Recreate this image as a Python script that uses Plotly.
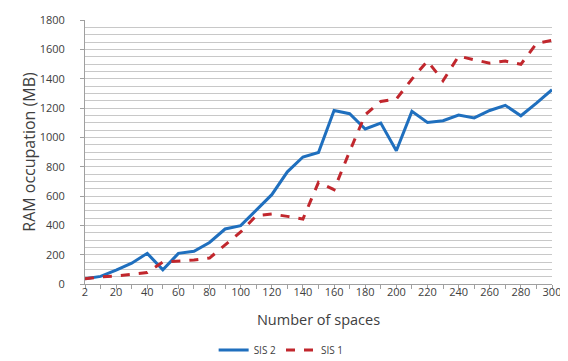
import plotly.graph_objects as go

categories = [2, 10, 20, 30, 40, 50, 60, 70, 80, 90, 100, 110, 120, 130, 140, 150,
              160, 170, 180, 190, 200, 210, 220, 230, 240, 250, 260, 270, 280, 290, 300]
sis2 = [35, 52, 95, 142, 209, 97, 209, 223, 283, 375, 398, 502, 609, 765, 866, 897,
        1183, 1161, 1057, 1097, 909, 1177, 1102, 1113, 1152, 1132, 1183, 1218, 1147, 1233, 1325]
sis1 = [35, 48, 55, 68, 78, 150, 155, 163, 177, 266, 355, 466, 477, 461, 443, 693,
        643, 904, 1154, 1245, 1261, 1397, 1520, 1386, 1554, 1529, 1506, 1520, 1498, 1640, 1661]
tick_labels = [str(c) if i % 2 == 0 else "" for i, c in enumerate(categories)]

idx = list(range(len(categories)))

fig = go.Figure()
fig.add_trace(go.Scatter(x=idx, y=sis2, mode="lines", name="SIS 2",
                         line=dict(color="#1F6FBE", width=3)))
fig.add_trace(go.Scatter(x=idx, y=sis1, mode="lines", name="SIS 1",
                         line=dict(color="#C1272D", width=3, dash="dash")))

font_family = "Open Sans, Noto Sans, sans-serif"
fig.update_layout(
    width=568, height=361,
    margin=dict(l=77, r=24, t=12, b=85, autoexpand=False),
    paper_bgcolor="white", plot_bgcolor="white",
    font=dict(family=font_family, color="#404040", size=11),
    showlegend=True,
    legend=dict(orientation="h", x=0.42, xanchor="center", y=-0.25, yanchor="middle",
                font=dict(size=10, color="#404040"), itemwidth=30),
    xaxis=dict(
        range=[0, 30], tickmode="array", tickvals=idx, ticktext=tick_labels,
        ticks="outside", ticklen=4, tickcolor="#A0A0A0", showgrid=False,
        showline=True, linecolor="#A0A0A0", linewidth=1, zeroline=False,
        automargin=False, ticklabelstandoff=-6,
        tickfont=dict(size=11, color="#404040"),
        title=dict(text="Number of spaces", font=dict(size=14.5, color="#404040"), standoff=16),
    ),
    yaxis=dict(
        range=[0, 1800], tickmode="linear", tick0=0, dtick=200,
        ticks="outside", ticklen=4, tickcolor="#A0A0A0",
        showgrid=True, gridcolor="#C8C8C8", gridwidth=1,
        minor=dict(dtick=50, showgrid=True, gridcolor="#C8C8C8", gridwidth=1),
        showline=True, linecolor="#A0A0A0", linewidth=1, zeroline=False,
        automargin=False, ticklabelstandoff=13,
        tickfont=dict(size=11, color="#404040"),
        title=dict(text="RAM occupation (MB)", font=dict(size=16, color="#404040"), standoff=0),
    ),
)

fig.write_html("out.html")
